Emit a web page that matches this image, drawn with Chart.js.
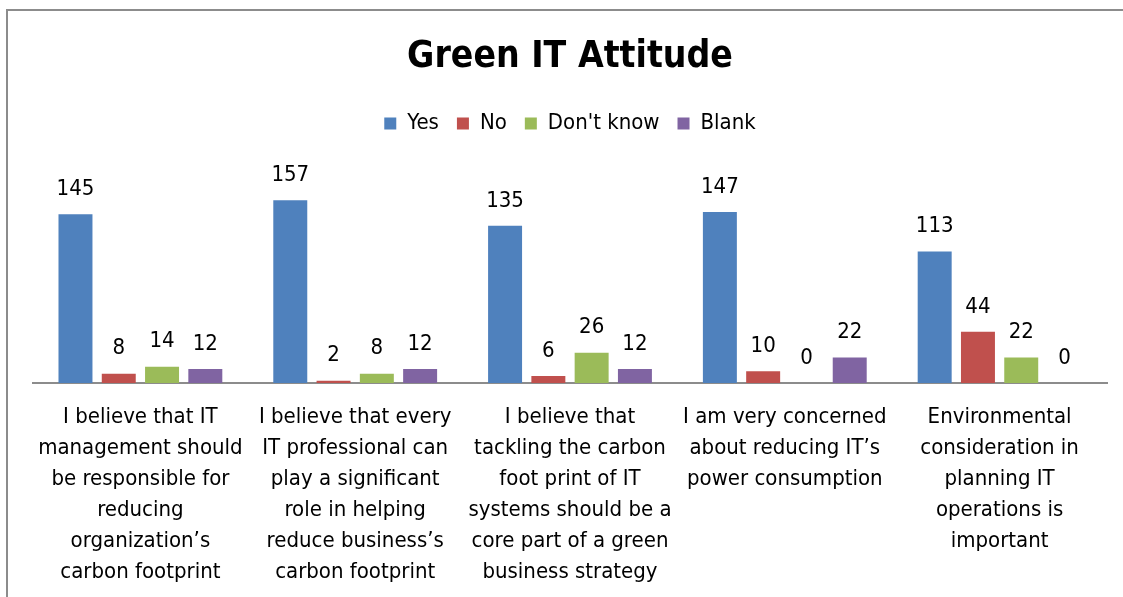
<!DOCTYPE html>
<html>
<head>
<meta charset="utf-8">
<script src="https://cdn.jsdelivr.net/npm/chart.js@4.4.1/dist/chart.umd.min.js"></script>
<style>
  html, body { margin: 0; padding: 0; background: #fff; }
  #wrap { position: relative; width: 1123px; height: 597px; }
</style>
</head>
<body>
<div id="wrap"><canvas id="chart" width="1123" height="597"></canvas></div>
<script>
// ==========================
// DATA
// ==========================
const categories = [
  ["I believe that IT", "management should", "be responsible for", "reducing", "organization\u2019s", "carbon footprint"],
  ["I believe that every", "IT professional can", "play a significant", "role in helping", "reduce business\u2019s", "carbon footprint"],
  ["I believe that", "tackling the carbon", "foot print of IT", "systems should be a", "core part of a green", "business strategy"],
  ["I am very concerned", "about reducing IT\u2019s", "power consumption"],
  ["Environmental", "consideration in", "planning IT", "operations is", "important"],
];
const yesValues = [145, 157, 135, 147, 113];
const noValues = [8, 2, 6, 10, 44];
const dontKnowValues = [14, 8, 26, 0, 22];
const blankValues = [12, 12, 12, 22, 0];

const FONT = '"Liberation Sans Narrow", "Arial Narrow", "DejaVu Sans Condensed", sans-serif';

// border around the chart (only top and left visible)
const frame = {
  id: "frame",
  beforeDraw(chart) {
    const ctx = chart.ctx;
    ctx.save();
    ctx.strokeStyle = "#8c8c8c";
    ctx.lineWidth = 2;
    ctx.beginPath();
    ctx.moveTo(7, 597);
    ctx.lineTo(7, 10);
    ctx.lineTo(1123, 10);
    ctx.stroke();
    ctx.restore();
  },
};

// value labels above each bar
const valueLabels = {
  id: "valueLabels",
  afterDatasetsDraw(chart) {
    const ctx = chart.ctx;
    ctx.save();
    ctx.font = "22px " + FONT;
    ctx.fillStyle = "#000";
    ctx.textAlign = "center";
    ctx.textBaseline = "middle";
    chart.data.datasets.forEach((ds, i) => {
      chart.getDatasetMeta(i).data.forEach((bar, j) => {
        ctx.fillText(String(ds.data[j]), bar.x, bar.y - 25);
      });
    });
    ctx.restore();
  },
};

new Chart(document.getElementById("chart"), {
  type: "bar",
  data: {
    labels: categories,
    datasets: [
      { label: "Yes", data: yesValues, backgroundColor: "#4F81BD" },
      { label: "No", data: noValues, backgroundColor: "#C0504D" },
      { label: "Don't know", data: dontKnowValues, backgroundColor: "#9BBB59" },
      { label: "Blank", data: blankValues, backgroundColor: "#8064A2" },
    ],
  },
  options: {
    responsive: false,
    animation: false,
    layout: { padding: { left: 33, right: 16, top: 10, bottom: 0 } },
    datasets: {
      bar: { barPercentage: 0.785, categoryPercentage: 0.806 },
    },
    scales: {
      x: {
        grid: { display: false },
        border: { color: "#8c8c8c", width: 2 },
        ticks: {
          color: "#000",
          font: { family: FONT, size: 22, lineHeight: 31 / 22 },
          padding: 11,
          maxRotation: 0,
          autoSkip: false,
        },
        afterFit(scale) {
          scale.height = 214;
        },
      },
      y: {
        display: false,
        min: 0,
        max: 205,
      },
    },
    plugins: {
      title: {
        display: true,
        text: "Green IT Attitude",
        color: "#000",
        font: { family: FONT, size: 37, weight: "bold" },
        padding: { top: 25, bottom: 15 },
      },
      legend: {
        display: true,
        labels: {
          color: "#000",
          font: { family: FONT, size: 22 },
          boxWidth: 12,
          boxHeight: 12,
          padding: 18,
        },
      },
      tooltip: { enabled: false },
    },
  },
  plugins: [frame, valueLabels],
});
</script>
</body>
</html>
